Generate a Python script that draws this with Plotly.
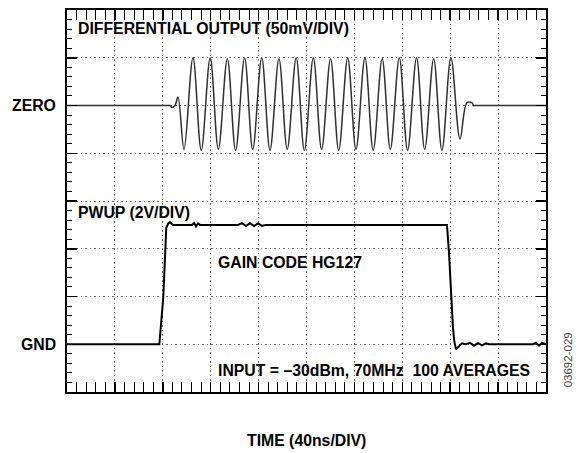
import plotly.graph_objects as go

# ---- Data ----
# Time axis: 40 ns/div, 10 divisions
time_range_ns = [0, 400]

# Differential output (mV), 50 mV/div, ZERO at 6th division from bottom
diff_t_ns = [0, 84.0, 86.0, 87.7, 90.2, 92.7, 97.7, 105.2, 112.1, 119.6, 126.4, 133.9,
             140.8, 148.3, 155.1, 162.6, 169.5, 177.0, 183.9, 191.4, 198.2, 205.7,
             212.6, 220.1, 226.9, 234.4, 241.3, 248.8, 255.7, 263.2, 270.0, 277.5,
             284.4, 291.9, 298.7, 306.2, 313.1, 320.6, 328.2, 334.0, 338.5, 339.5,
             341.5, 400]
diff_mv = [0, 0, 0, -2, 0, 9, -46, 50, -47, 50, -46, 49,
           -47, 50, -46, 50, -47, 49, -46, 50, -47, 50,
           -46, 49, -47, 50, -46, 50, -47, 49, -46, 50,
           -47, 50, -46, 49, -47, 50, -35, 3, 2.5, 0,
           0, 0]

# PWUP (V), 2 V/div, GND at 1st division from bottom
pwup_t_ns = [0, 77.1, 80.4, 82.4, 82.9, 84.5, 86.0, 88.5,
             104.4, 106.1, 107.7, 109.4, 111.1,
             142.8, 146.1, 149.5, 152.8, 156.2, 159.5, 162.8, 166.2,
             317.3, 319.0, 322.3, 323.5, 324.9, 327.0, 329.9,
             333.2, 336.5, 339.9, 343.2, 346.6, 349.9, 352.4,
             389.2, 391.7, 394.2, 396.7, 399.2, 400]
pwup_v = [0, 0, 1.96, 4.33, 4.88, 5.05, 5.12, 5.0,
          5.0, 5.08, 4.94, 5.06, 5.0,
          5.0, 5.07, 4.95, 5.07, 4.95, 5.06, 4.96, 5.0,
          5.0, 3.83, 0.71, 0.1, -0.21, -0.1, 0.04,
          0, 0.06, -0.06, 0.05, -0.05, 0.04, 0,
          0, 0.06, -0.06, 0.06, 0, 0]

# Vertical scales (8 divisions)
diff_range_mv = [-300, 100]   # 50 mV/div
pwup_range_v = [-2, 14]       # 2 V/div

FONT = "Liberation Sans, Arial, Helvetica, sans-serif"

fig = go.Figure()
fig.add_trace(go.Scatter(x=diff_t_ns, y=diff_mv, mode="lines",
                         line=dict(color="#303030", width=1.5, shape="spline", smoothing=1),
                         yaxis="y", showlegend=False, hoverinfo="skip"))
fig.add_trace(go.Scatter(x=pwup_t_ns, y=pwup_v, mode="lines",
                         line=dict(color="black", width=2),
                         yaxis="y2", showlegend=False, hoverinfo="skip"))

axis_common = dict(showline=True, linecolor="black", linewidth=2, mirror="allticks",
                   ticks="inside", ticklen=10, tickwidth=1.5, tickcolor="black",
                   showticklabels=False, zeroline=False,
                   showgrid=True, gridcolor="#6a6a6a", gridwidth=1, griddash="1.5px,3px")

fig.update_layout(
    width=580, height=453,
    margin=dict(l=67, r=34, t=8, b=61),
    paper_bgcolor="white", plot_bgcolor="white",
    xaxis=dict(range=time_range_ns, dtick=40, tick0=0,
               minor=dict(dtick=8, ticks="inside", ticklen=5, tickwidth=1,
                          tickcolor="black", showgrid=False),
               **axis_common),
    yaxis=dict(range=diff_range_mv, dtick=50, tick0=0,
               minor=dict(dtick=10, ticks="inside", ticklen=5, tickwidth=1,
                          tickcolor="black", showgrid=False),
               **axis_common),
    yaxis2=dict(range=pwup_range_v, overlaying="y", visible=False),
)

def label(text, x, y, xanchor="left", size=15.8, bold=True, angle=0, color="black"):
    fig.add_annotation(text=f"<b>{text}</b>" if bold else text,
                       xref="paper", yref="paper", x=x, y=y,
                       xanchor=xanchor, yanchor="middle", showarrow=False,
                       textangle=angle,
                       font=dict(family=FONT, size=size, color=color))

label("DIFFERENTIAL OUTPUT (50mV/DIV)", 0.019, 0.952)
label("ZERO", -0.019, 0.75, xanchor="right")
label("PWUP (2V/DIV)", 0.019, 0.470)
label("GAIN CODE HG127", 0.311, 0.340)
label("INPUT = \u201330dBm, 70MHz \u00a0100 AVERAGES", 0.311, 0.055)
label("GND", -0.019, 0.125, xanchor="right")
label("TIME (40ns/DIV)", 0.5, -0.126, xanchor="center")
label("03692-029", 1.046, 0.083, xanchor="center", size=11.5, bold=False,
      angle=-90, color="#444444")

fig.write_html("out.html", config={"displayModeBar": False, "staticPlot": True},
               post_script="document.body.style.margin='0';document.body.style.overflow='hidden';")
